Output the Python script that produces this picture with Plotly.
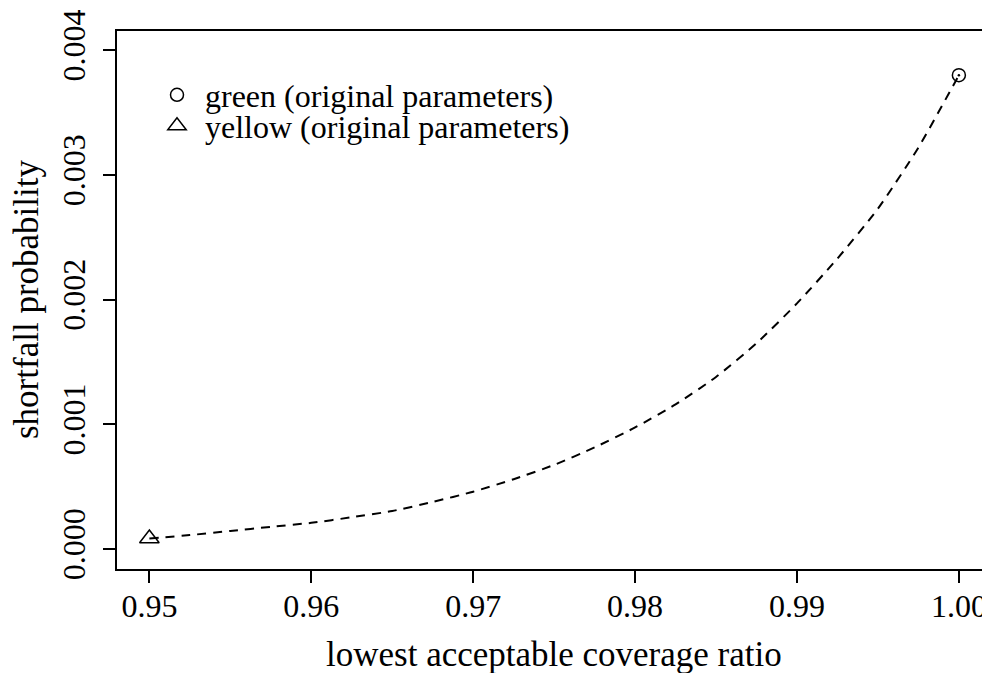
import plotly.graph_objects as go

# ---- data ----
coverage_ratio = [0.95, 0.9525, 0.955, 0.9575, 0.96, 0.9625, 0.965, 0.9675, 0.97,
                  0.9725, 0.975, 0.9775, 0.98, 0.9825, 0.985, 0.9875, 0.99,
                  0.9925, 0.995, 0.9975, 1.0]
shortfall_prob = [0.000085, 0.000112, 0.000145, 0.000178, 0.000210, 0.000255,
                  0.000305, 0.000378, 0.000460, 0.000560, 0.000675, 0.000815,
                  0.000975, 0.00116, 0.00138, 0.00165, 0.00197, 0.00233,
                  0.00273, 0.00322, 0.0038]
green_x = [1.0]
green_y = [0.0038]
yellow_x = [0.95]
yellow_y = [0.000085]
x_ticks = [0.95, 0.96, 0.97, 0.98, 0.99, 1.00]
y_ticks = [0.000, 0.001, 0.002, 0.003, 0.004]
x_label = "lowest acceptable coverage ratio"
y_label = "shortfall probability"
green_name = "green (original parameters)"
yellow_name = "yellow (original parameters)"

FONT = "Liberation Serif"
FS = 32
FS_TITLE = 35

fig = go.Figure()
fig.add_trace(go.Scatter(
    x=coverage_ratio, y=shortfall_prob, mode="lines",
    line=dict(color="black", width=2, dash="9px,7px", shape="spline", smoothing=0.6),
    showlegend=False, hoverinfo="skip"))
fig.add_trace(go.Scatter(
    x=green_x, y=green_y, mode="markers", name=green_name,
    marker=dict(symbol="circle-open", size=13, color="black", line=dict(width=1.5)),
    legend="legend"))
fig.add_trace(go.Scatter(
    x=green_x, y=green_y, mode="markers", showlegend=False,
    marker=dict(symbol="circle", size=2.5, color="black")))
fig.add_trace(go.Scatter(
    x=yellow_x, y=yellow_y, mode="markers", name=yellow_name,
    marker=dict(symbol="triangle-up-open", size=17, color="black", line=dict(width=1.5)),
    legend="legend2"))

# page body has an 8px margin: the figure is drawn at (8, 8)
OFF = 8
W, H = 990 - OFF, 673 - OFF
L, R, T, B = 117 - OFF, 0, 31 - OFF, 673 - 569
px_per_x = 16190.0
px_per_y = 124700.0
plot_w = W - L - R
plot_h = H - T - B
x0 = 0.948
y0 = -0.00016

axis_common = dict(
    showline=True, linecolor="black", linewidth=1.5,
    ticks="outside", ticklen=12, tickwidth=1.5, tickcolor="black",
    showgrid=False, zeroline=False,
    tickfont=dict(family=FONT, size=FS, color="black"),
)

leg_common = dict(
    font=dict(family=FONT, size=FS, color="black"),
    bgcolor="rgba(0,0,0,0)", borderwidth=0,
    xanchor="left", yanchor="middle", itemwidth=46,
)

fig.update_layout(
    width=W, height=H,
    margin=dict(l=L, r=R, t=T, b=B, pad=0),
    paper_bgcolor="white", plot_bgcolor="white",
    font=dict(family=FONT, size=FS, color="black"),
    xaxis=dict(range=[x0, x0 + plot_w / px_per_x], tickvals=x_ticks,
               tickformat=".2f", mirror=True, ticklabelstandoff=-4, **axis_common),
    yaxis=dict(range=[y0, y0 + plot_h / px_per_y], tickvals=y_ticks,
               tickformat=".3f", tickangle=-90, ticklabelstandoff=5, **axis_common),
    legend=dict(x=(149 - 117) / plot_w, y=1 - (95 - 31) / plot_h, **leg_common),
    legend2=dict(x=(149 - 117) / plot_w, y=1 - (126 - 31) / plot_h, **leg_common),
    annotations=[
        dict(text=x_label, xref="paper", yref="paper", x=0.5, y=0,
             xanchor="center", yanchor="middle", yshift=-(654 - 569),
             showarrow=False, font=dict(family=FONT, size=FS_TITLE, color="black")),
        dict(text=y_label, xref="paper", yref="paper", x=0, y=0.5,
             xanchor="center", yanchor="middle", xshift=-(117 - 26), textangle=-90,
             showarrow=False, font=dict(family=FONT, size=FS_TITLE, color="black")),
    ],
)

fig.write_html("out.html")
